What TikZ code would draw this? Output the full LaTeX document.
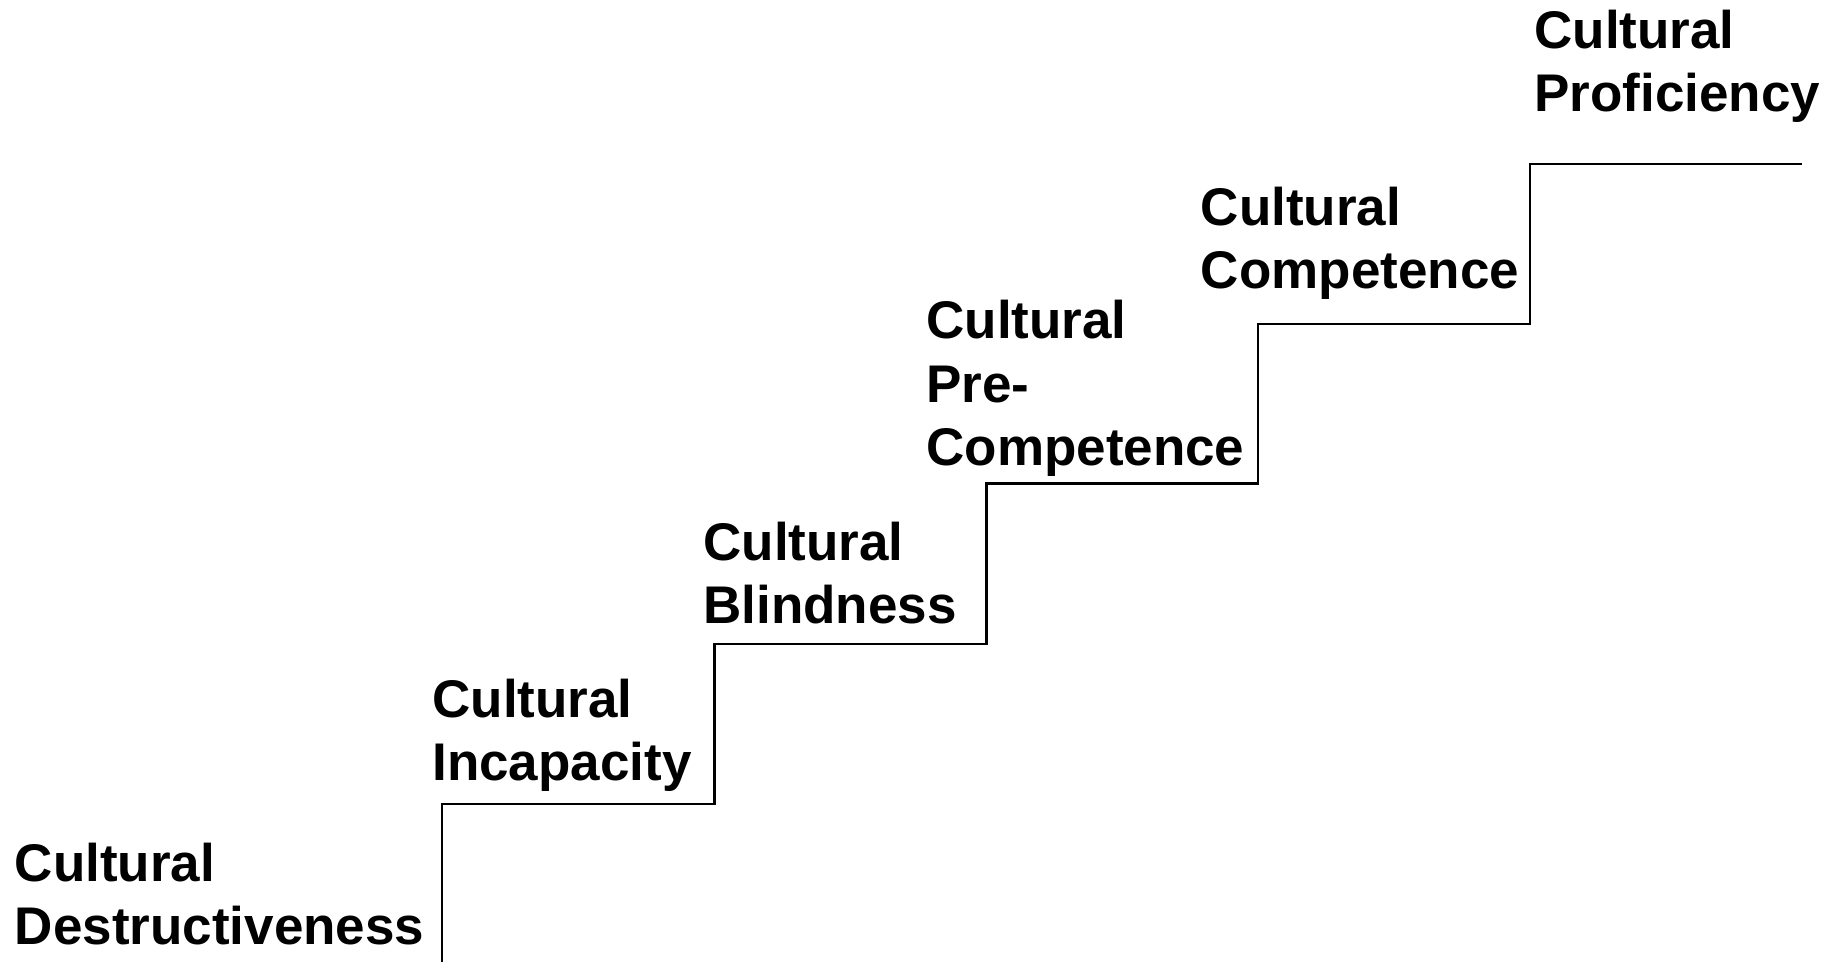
\documentclass[tikz,border=0pt]{standalone}
\usepackage{fontspec}
\setmainfont{Liberation Sans}
\begin{document}
\begin{tikzpicture}[x=0.5pt,y=-0.5pt,
  stage/.style={anchor=base west,inner sep=0pt,align=left,
    font=\bfseries\fontsize{26.5pt}{31.5pt}\selectfont},
  stair/.style={line width=1.1pt,line join=miter}]
\useasboundingbox (0,0) rectangle (1835,962);
% the staircase of the continuum
\draw[stair] (442,962) -- (442,804) -- (714.5,804) -- (714.5,644)
  -- (986.5,644) -- (986.5,483.5) -- (1258.3,483.5) -- (1258.3,324)
  -- (1529.7,324) -- (1529.7,164) -- (1802,164);
% one label per step, placed by the baseline of its last line
\node[stage] (dest)    at (14.5,944)    {Cultural\\Destructiveness};
\node[stage] (incap)   at (432,780)     {Cultural\\Incapacity};
\node[stage] (blind)   at (703,623.3)   {Cultural\\Blindness};
\node[stage] (precomp) at (926,465)     {Cultural\\Pre-\\Competence};
\node[stage] (comp)    at (1200.5,288.3) {Cultural\\Competence};
\node[stage] (prof)    at (1534,111.7)  {Cultural\\Proficiency};
\end{tikzpicture}
\end{document}
